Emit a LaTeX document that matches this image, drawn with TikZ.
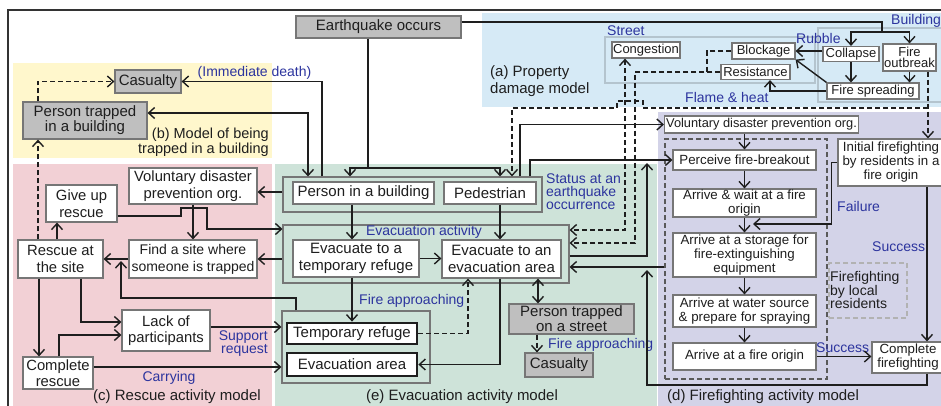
\documentclass[tikz,border=0pt]{standalone}
\usepackage{fontspec}
\setmainfont{Liberation Sans}
\usetikzlibrary{arrows.meta}
\definecolor{bgblue}{RGB}{214,234,246}
\definecolor{bgyellow}{RGB}{255,247,204}
\definecolor{bgpink}{RGB}{242,208,213}
\definecolor{bggreen}{RGB}{206,227,217}
\definecolor{bglav}{RGB}{211,211,232}
\definecolor{lblue}{RGB}{44,52,158}
\definecolor{nodegray}{RGB}{191,191,191}
\definecolor{edgegray}{RGB}{118,118,118}
\definecolor{grpline}{RGB}{180,196,206}
\definecolor{ink}{RGB}{30,30,30}
\begin{document}
\begin{tikzpicture}
      [x=1pt,y=-1pt,
       conn/.style={draw=ink,line width=1.4pt},
       arr/.style={conn,-{Straight Barb[length=6pt,width=11pt]}},
       biarr/.style={conn,{Straight Barb[length=6pt,width=11pt]}-{Straight Barb[length=6pt,width=11pt]}},
       dashes/.style={dash pattern=on 5pt off 3pt},
       wbox/.style={draw=edgegray,line width=1.2pt,fill=white,inner sep=0.5pt,align=center,text=ink,font=\fontsize{15}{17.5}\selectfont},
       gbox/.style={wbox,fill=nodegray,font=\fontsize{15}{15}\selectfont},
       tbox/.style={wbox,draw=ink,line width=2.8pt},
       cbox/.style={wbox,font=\fontsize{14.8}{16.5}\selectfont},
       dbox/.style={wbox,font=\fontsize{13.3}{14}\selectfont},
       abox/.style={wbox,font=\fontsize{13}{11.5}\selectfont},
       grp/.style={draw=edgegray,line width=1.1pt,inner sep=0pt},
       sz/.style 2 args={minimum width=#1pt,minimum height=#2pt},
       blab/.style={text=lblue,inner sep=0pt,align=left,font=\fontsize{14}{13}\selectfont},
       rlab/.style={text=ink,inner sep=0pt,align=left,font=\fontsize{15}{17}\selectfont}]
      \useasboundingbox (0,0) rectangle (941,405);
      \clip (0,0) rectangle (941,405);
      \fill[bgblue] (482,13) rectangle (945,107);
      \fill[bgyellow] (13,63) rectangle (272,158);
      \fill[bgpink] (13,164) rectangle (272,410);
      \fill[bggreen] (275,164) rectangle (657,410);
      \fill[bglav] (658,112) rectangle (945,410);
      \draw[line width=2pt,draw=black!80] (8,420) -- (8,10) -- (950,10);

      \node[grp,draw=grpline,sz={210}{46}] (streetg) at (710,60) {};
      \node[grp,draw=grpline,sz={127}{74}] (buildg) at (881.5,65) {};
      \node[grp,sz={259}{35}] (statusg) at (412.5,194.5) {};
      \node[grp,sz={286}{58}] (evacg) at (426,254) {};
      \node[grp,sz={148}{72}] (refg) at (356,347) {};
      \node[grp,draw=black!65,dashes,sz={162}{240}] (ffg) at (746,259) {};
      \node[grp,draw=black!30,dashes,sz={78}{55}] (fflab) at (868,290.5) {};

      \node[gbox,sz={165}{22}] (eq) at (378.5,27) {Earthquake occurs};
      \node[gbox,sz={66}{23}] (cas1) at (148,81.5) {Casualty};
      \node[gbox,sz={124}{37}] (ptb) at (85,120.5) {Person trapped\\in a building};

      \node[cbox,sz={128}{36}] (volc) at (193,186) {Voluntary disaster\\prevention org.};
      \node[cbox,sz={71}{37}] (giveup) at (81.5,203.5) {Give up\\rescue};
      \node[cbox,sz={85}{38}] (rescue) at (60.5,259) {Rescue at\\the site};
      \node[cbox,sz={128}{38},font=\fontsize{14}{17}\selectfont] (find) at (193,259) {Find a site where\\someone is trapped};
      \node[cbox,sz={88}{41}] (lack) at (166,330.5) {Lack of\\participants};
      \node[cbox,sz={70}{32}] (complr) at (58,373) {Complete\\rescue};

      \node[wbox,sz={141}{22}] (pib) at (363.5,193) {Person in a building};
      \node[wbox,sz={92}{22}] (ped) at (490,193) {Pedestrian};
      \node[wbox,sz={126}{37}] (evtemp) at (356,258.5) {Evacuate to a\\temporary refuge};
      \node[wbox,sz={119}{38}] (evarea) at (501.5,259) {Evacuate to an\\evacuation area};
      \node[tbox,sz={130}{21}] (tref) at (352,333.5) {Temporary refuge};
      \node[tbox,sz={130}{23}] (earea) at (352,364.5) {Evacuation area};
      \node[gbox,sz={125}{30}] (pts) at (571.5,319) {Person trapped\\on a street};
      \node[gbox,sz={68}{24}] (cas2) at (559,365) {Casualty};

      \node[abox,sz={68}{16}] (cong) at (646,50) {Congestion};
      \node[abox,sz={63}{16}] (block) at (763.5,51) {Blockage};
      \node[abox,sz={69}{15}] (resist) at (755.5,72) {Resistance};
      \node[abox,sz={56}{15}] (collapse) at (851,54) {Collapse};
      \node[abox,sz={53}{27}] (fireout) at (909.5,57.5) {Fire\\outbreak};
      \node[abox,sz={92}{16}] (firesp) at (873,91) {Fire spreading};

      \node[dbox,sz={194}{17},font=\fontsize{12.8}{14}\selectfont] (vold) at (761.5,124.5) {Voluntary disaster prevention org.};
      \node[dbox,sz={143}{20}] (perc) at (744.5,160) {Perceive fire-breakout};
      \node[dbox,sz={143}{28}] (wait) at (744.5,203) {Arrive \& wait at a fire\\origin};
      \node[dbox,sz={143}{44}] (storage) at (744.5,255) {Arrive at a storage for\\fire-extinguishing\\equipment};
      \node[dbox,sz={143}{32}] (water) at (744.5,311) {Arrive at water source\\\& prepare for spraying};
      \node[dbox,sz={143}{27}] (origin) at (744.5,356.5) {Arrive at a fire origin};
      \node[dbox,sz={106}{47}] (init) at (891,162.5) {Initial firefighting\\by residents in a\\fire origin};
      \node[dbox,sz={72}{31}] (complf) at (908,357.5) {Complete\\firefighting};
      \node[rlab,anchor=west,font=\fontsize{14}{13.5}\selectfont] (fftext) at (830,290) {Firefighting\\by local\\residents};

      \node[rlab,anchor=west] (alab) at (490,81.5) {(a) Property\\damage model};
      \node[rlab,anchor=east,align=right,font=\fontsize{14.5}{15}\selectfont] (blab) at (269,142.5) {(b) Model of being\\trapped in a building};
      \node[rlab] (clab) at (177,397) {(c) Rescue activity model};
      \node[rlab,anchor=west] (dlab) at (667,397) {(d) Firefighting activity model};
      \node[rlab] (elab) at (462,397) {(e) Evacuation activity model};

      \node[blab] (death) at (254.5,73) {(Immediate death)};
      \node[blab,anchor=east,align=right] (support) at (268,343.5) {Support\\request};
      \node[blab] (carry) at (169,378) {Carrying};
      \node[blab] (evact) at (424,232) {Evacuation activity};
      \node[blab,anchor=west] (status) at (546,192) {Status at an\\earthquake\\occurrence};
      \node[blab,anchor=west] (fire1) at (359,301) {Fire approaching};
      \node[blab,anchor=west] (fire2) at (548,345) {Fire approaching};
      \node[blab,anchor=west] (street) at (607,31) {Street};
      \node[blab,anchor=west] (building) at (891,21) {Building};
      \node[blab,anchor=west] (rubble) at (796,38) {Rubble};
      \node[blab,anchor=west] (flame) at (685,97) {Flame \& heat};
      \node[blab,anchor=west] (failure) at (837,206) {Failure};
      \node[blab,anchor=west] (succ1) at (872,247) {Success};
      \node[blab,anchor=west] (succ2) at (816,348) {Success};

      \coordinate (eqsplit) at (368,168);
      \coordinate (bsplit) at (882,32);
      \coordinate (fo) at ([xshift=18.5pt]fireout.south);
      \draw[conn] (eq.south -| eqsplit) -- (eqsplit);
      \draw[arr] (eqsplit) -| (statusg.north -| 350,0);
      \draw[arr] (eqsplit) -| (statusg.north -| 500,0);
      \draw[conn] ([yshift=5pt]eq.east) -| (bsplit);
      \draw[arr] (bsplit) -| (collapse.north);
      \draw[arr] (bsplit) -| (fireout.north);

      \draw[arr] (collapse.west |- block) -- (block.east);
      \draw[arr] (firesp.north west) -- (block.south east);
      \draw[arr] (firesp.west) -| ([xshift=14.5pt]resist.south);
      \draw[arr] (collapse) -- (collapse |- firesp.north);
      \draw[arr] (fireout) -- (fireout |- firesp.north);
      \draw[conn,dashes] (block.west) -| (707,72);
      \draw[arr,dashes] (resist.west) -| (635,243) -- (evacg.east |- 0,243);
      \draw[biarr,dashes] ([xshift=-21pt]cong.south) |- (evacg.east |- 0,230);
      \draw[arr,dashes] (fo) -- (fo |- init.north);
      \draw[arr,dashes] (fo |- 0,108) -- (643,108) |- (617,101) |- (512,108) -- (statusg.north -| 512,0);

      \draw[arr] (statusg.north -| 520,0) |- (vold.west);
      \draw[arr] (statusg.north -| 530,0) |- (perc.west);
      \draw[arr] (evacg.east |- 0,256) -| (647,163);
      \draw[arr] (ffg.west |- 0,267) -- (evacg.east |- 0,267);
      \draw[arr] ([xshift=19pt]complf.south) |- (647,385) -- (647,270);

      \draw[arr] (vold.south -| perc) -- (perc);
      \draw[arr] (perc) -- (wait);
      \draw[arr] (wait) -- (storage);
      \draw[arr] (storage) -- (water);
      \draw[arr] (water) -- (origin);
      \draw[arr] (origin.east) -- (complf.west |- origin.east);
      \draw[arr] (init.west) -- ++(-6,0) |- (753,224);
      \draw[arr] (init.south -| 927,0) -- (complf.north -| 927,0);

      \draw[arr] (pib.south -| 352,0) -- (evtemp.north -| 352,0);
      \draw[arr] (ped.south -| 500,0) -- (evarea.north -| 500,0);
      \draw[arr] (evtemp.east) -- (evarea.west |- evtemp.east);
      \draw[arr] (evtemp.south -| 352,0) -- (tref.north -| 352,0);
      \draw[arr,dashes] (tref.east) -| (evarea.south -| 468,0);
      \draw[arr] (evarea.south -| 500,0) |- (earea.east);
      \draw[biarr] (evarea.south -| 538,0) -- (pts.north -| 538,0);
      \draw[arr,dashes] (pts.south -| 537,0) -- (cas2.north -| 537,0);

      \draw[arr] (statusg.north -| 322,0) |- (cas1.east);
      \draw[biarr] (ptb.east |- 0,113) -| (statusg.north -| 308,0);
      \draw[arr,dashes] (ptb.north -| 38,0) |- (cas1.west);
      \draw[arr,dashes] (rescue.north -| 38,0) -- (ptb.south -| 38,0);
      \draw[arr] (statusg.west |- 0,192) -- (volc.east |- 0,192);
      \draw[arr] (volc) -- (find);
      \draw[arr] (giveup.east |- 0,216) -- (181,216) |- (207,208) |- (evacg.west |- 0,229);
      \draw[arr] (evacg.west |- find) -- (find.east);
      \draw[arr] (find) -- (rescue);
      \draw[arr] (refg.north -| 296,0) |- (121,298) -- (121,261);
      \draw[arr] (rescue.north -| 57,0) -- (giveup.south -| 57,0);
      \draw[arr] (rescue.south -| 39,0) -- (complr.north -| 39,0);
      \draw[arr] (rescue.south -| 81,0) |- (lack.west |- 0,322);
      \draw[arr] (complr.north -| 59,0) |- (lack.west |- 0,335);
      \draw[arr] (lack.east |- 0,327) -- (refg.west |- 0,327);
      \draw[arr] (complr.east |- 0,367) -- (refg.west |- 0,367);
    \end{tikzpicture}
\end{document}
